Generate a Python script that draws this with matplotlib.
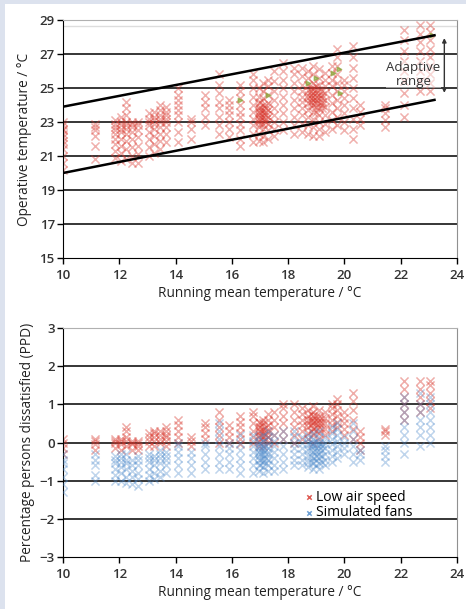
import numpy as np
import matplotlib
matplotlib.use('Agg')
import matplotlib.pyplot as plt
from matplotlib.patches import Rectangle

plt.rcParams['font.family'] = ['Open Sans', 'DejaVu Sans']

# column positions (running mean temperature, degC)
col_x = [10.0, 11.15, 11.85, 12.05, 12.25, 12.45, 12.65, 13.05, 13.25, 13.45, 13.65,
         14.1, 14.55, 15.05, 15.55, 15.9, 16.3, 16.75, 16.95, 17.1, 17.3, 17.5, 17.8,
         18.2, 18.5, 18.7, 18.9, 19.1, 19.3, 19.55, 19.75, 20.0, 20.3, 20.55, 21.45,
         22.1, 22.7, 23.05,
         # extra columns in the dense clusters
         17.0, 17.2, 18.8, 19.0, 19.2]

# top chart: operative temperature per column
op_temp = [
    [20.2, 20.6, 21.0, 21.4, 21.7, 21.9, 22.1, 22.3, 22.5, 22.6, 22.8, 23.0],
    [20.8, 21.6, 22.2, 22.5, 22.7, 22.9],
    [20.9, 21.3, 21.7, 22.0, 22.3, 22.5, 22.7, 22.9, 23.1],
    [20.7, 21.2, 21.6, 22.0, 22.4, 22.6, 22.8, 23.0, 23.3],
    [20.8, 21.4, 21.9, 22.3, 22.6, 22.8, 23.0, 23.4, 23.8, 24.2],
    [20.6, 21.0, 21.5, 22.0, 22.4, 22.7, 22.9, 23.0],
    [20.6, 21.1, 21.6, 22.1, 22.5, 22.8, 23.0],
    [21.0, 21.5, 22.0, 22.4, 22.8, 23.0, 23.2, 23.5],
    [21.2, 21.7, 22.2, 22.6, 22.9, 23.1, 23.3, 23.6],
    [21.4, 21.9, 22.3, 22.7, 23.0, 23.2, 23.4, 23.7, 24.0],
    [21.8, 22.3, 22.7, 23.0, 23.2, 23.4, 23.6, 23.9],
    [21.8, 22.4, 23.0, 23.4, 23.7, 24.0, 24.3, 24.6, 25.0],
    [22.0, 22.6, 23.0, 23.2],
    [22.8, 23.3, 23.8, 24.2, 24.6],
    [22.3, 22.8, 23.3, 23.8, 24.2, 24.7, 25.2, 25.8],
    [22.1, 22.6, 23.0, 23.4, 23.7, 24.0, 24.3],
    [21.6, 22.0, 22.5, 22.9, 23.3, 23.6, 24.0, 24.4, 24.8, 25.2],
    [21.8, 22.3, 22.8, 23.2, 23.6, 24.0, 24.5, 25.0, 25.5, 25.8],
    [21.9, 22.3, 22.7, 23.0, 23.2, 23.4, 23.6, 23.8, 24.1, 24.5, 25.0],
    [21.8, 22.2, 22.6, 22.9, 23.1, 23.3, 23.5, 23.7, 24.0, 24.4, 24.8, 25.3],
    [22.0, 22.5, 22.9, 23.3, 23.7, 24.1, 24.6, 25.1, 25.5],
    [22.2, 22.6, 23.0, 23.4, 23.8, 24.3, 24.8, 25.4, 26.0],
    [22.5, 23.0, 23.5, 24.0, 24.5, 25.0, 25.5, 26.0, 26.5],
    [22.3, 22.8, 23.3, 23.8, 24.3, 24.8, 25.3, 25.8, 26.2],
    [22.4, 22.9, 23.4, 23.8, 24.2, 24.5, 24.8, 25.2, 25.7, 26.2],
    [22.3, 22.8, 23.3, 23.7, 24.1, 24.4, 24.6, 24.9, 25.2, 25.6, 26.0],
    [22.2, 22.7, 23.2, 23.6, 24.0, 24.3, 24.5, 24.7, 25.0, 25.3, 25.8, 26.3],
    [22.2, 22.6, 23.0, 23.4, 23.8, 24.1, 24.4, 24.6, 24.9, 25.2, 25.6, 26.1],
    [22.4, 22.9, 23.4, 23.9, 24.3, 24.7, 25.1, 25.5, 25.9],
    [22.6, 23.1, 23.6, 24.1, 24.6, 25.1, 25.5, 25.9, 26.3],
    [22.8, 23.3, 23.8, 24.3, 24.8, 25.3, 25.8, 26.3, 26.8, 27.3],
    [22.5, 23.0, 23.5, 24.0, 24.4, 24.8, 25.2, 25.5],
    [22.0, 22.6, 23.2, 23.8, 24.4, 25.0, 25.6, 26.2, 26.8, 27.5],
    [22.8, 23.2, 23.6, 24.0],
    [22.7, 23.1, 23.5, 23.8, 24.0],
    [23.3, 24.0, 24.7, 25.4, 26.0, 26.6, 27.2, 27.8, 28.4],
    [24.8, 25.4, 26.0, 26.6, 27.2, 27.7, 28.2, 28.7],
    [24.8, 25.3, 25.8, 26.3, 26.8, 27.3, 27.8, 28.3, 28.7],
    [22.9, 23.1, 23.3, 23.5, 23.7, 23.9, 24.2],
    [23.0, 23.2, 23.4, 23.6, 23.8, 24.0],
    [24.0, 24.2, 24.4, 24.6, 24.8, 25.0],
    [23.6, 23.9, 24.1, 24.3, 24.5, 24.7, 24.9, 25.1],
    [23.8, 24.0, 24.2, 24.4, 24.6, 24.8],
]

# a few green points in the top chart
green_x = [16.3, 17.3, 18.7, 19.0, 19.6, 19.8, 19.85, 23.1]
green_y = [24.3, 24.6, 25.3, 25.6, 25.9, 26.1, 24.7, 28.1]

# adaptive range limits
band_x = [10.0, 23.2]
band_upper = [23.9, 28.1]
band_lower = [20.0, 24.3]

# bottom chart: PPD per column
ppd_low = [
    [-0.3, -0.15, 0.0, 0.1],
    [-0.2, -0.05, 0.05, 0.1],
    [-0.15, 0.0, 0.05, 0.1],
    [-0.2, -0.05, 0.05, 0.1],
    [-0.1, 0.05, 0.15, 0.3, 0.4],
    [-0.2, -0.05, 0.0, 0.05],
    [-0.2, -0.1, 0.0, 0.05],
    [-0.1, 0.05, 0.15, 0.25],
    [-0.1, 0.05, 0.15, 0.25, 0.3],
    [0.0, 0.1, 0.2, 0.3],
    [-0.1, 0.05, 0.15, 0.2, 0.3, 0.4],
    [0.0, 0.15, 0.3, 0.45, 0.6],
    [-0.1, 0.05, 0.15],
    [0.1, 0.25, 0.4, 0.5],
    [0.0, 0.2, 0.4, 0.6, 0.8],
    [0.0, 0.15, 0.3, 0.45],
    [-0.05, 0.1, 0.25, 0.4, 0.55, 0.7],
    [0.0, 0.15, 0.3, 0.5, 0.7, 0.8],
    [-0.1, 0.05, 0.2, 0.3, 0.4, 0.55],
    [-0.1, 0.05, 0.15, 0.25, 0.35, 0.5, 0.6],
    [0.0, 0.15, 0.3, 0.45, 0.6, 0.75],
    [0.0, 0.2, 0.4, 0.6, 0.8],
    [0.1, 0.3, 0.5, 0.7, 0.9, 1.0],
    [0.0, 0.2, 0.4, 0.6, 0.8, 1.0],
    [0.1, 0.3, 0.45, 0.6, 0.75, 0.9],
    [0.1, 0.25, 0.4, 0.5, 0.6, 0.7, 0.85],
    [0.0, 0.2, 0.35, 0.5, 0.6, 0.7, 0.8, 0.95],
    [0.1, 0.25, 0.4, 0.5, 0.6, 0.7, 0.85],
    [0.2, 0.35, 0.5, 0.65, 0.8],
    [0.3, 0.45, 0.6, 0.75, 0.9, 1.0],
    [0.4, 0.55, 0.7, 0.85, 1.0, 1.15],
    [0.2, 0.35, 0.5, 0.65, 0.8],
    [0.1, 0.35, 0.6, 0.85, 1.1, 1.3],
    [-0.2, 0.0, 0.15, 0.3],
    [0.2, 0.3, 0.35],
    [0.6, 0.8, 1.0, 1.2, 1.4, 1.6],
    [0.8, 1.0, 1.2, 1.4, 1.6],
    [0.9, 1.1, 1.3, 1.5, 1.6],
    [0.1, 0.2, 0.3, 0.4, 0.5],
    [0.1, 0.2, 0.3, 0.4],
    [0.3, 0.45, 0.6, 0.75],
    [0.3, 0.4, 0.5, 0.6, 0.7],
    [0.35, 0.5, 0.65],
]

ppd_fans = [
    [-1.3, -1.1, -0.9, -0.7, -0.55, -0.45, -0.3],
    [-1.0, -0.85, -0.6, -0.45, -0.3],
    [-1.0, -0.85, -0.7, -0.55, -0.45, -0.35],
    [-1.0, -0.8, -0.65, -0.5, -0.4, -0.3],
    [-1.05, -0.9, -0.7, -0.55, -0.45, -0.3],
    [-1.1, -0.9, -0.75, -0.6, -0.45],
    [-1.15, -0.95, -0.8, -0.6, -0.45, -0.35],
    [-1.0, -0.85, -0.7, -0.5, -0.4, -0.3],
    [-0.95, -0.8, -0.6, -0.45, -0.35],
    [-0.9, -0.75, -0.55, -0.4, -0.3, -0.2],
    [-0.8, -0.6, -0.45, -0.35, -0.25],
    [-0.8, -0.6, -0.4, -0.25, -0.1, 0.0],
    [-0.8, -0.6, -0.4, -0.25],
    [-0.7, -0.5, -0.3, -0.1, 0.0],
    [-0.7, -0.5, -0.3, -0.1, 0.1, 0.3, 0.5],
    [-0.7, -0.5, -0.3, -0.15, 0.0],
    [-0.8, -0.6, -0.4, -0.2, 0.0, 0.2],
    [-0.8, -0.6, -0.4, -0.25, -0.1, 0.05, 0.2],
    [-0.75, -0.6, -0.45, -0.35, -0.25, -0.15, 0.0, 0.15],
    [-0.8, -0.65, -0.5, -0.4, -0.3, -0.2, -0.1, 0.05, 0.2],
    [-0.75, -0.6, -0.45, -0.3, -0.15, 0.0, 0.15, 0.3],
    [-0.75, -0.6, -0.4, -0.25, -0.1, 0.05, 0.2],
    [-0.7, -0.5, -0.3, -0.1, 0.1, 0.3],
    [-0.6, -0.45, -0.3, -0.15, 0.0, 0.15, 0.3],
    [-0.6, -0.45, -0.3, -0.15, 0.0, 0.15],
    [-0.65, -0.5, -0.35, -0.2, -0.05, 0.1, 0.2],
    [-0.7, -0.55, -0.4, -0.25, -0.1, 0.0, 0.1, 0.25],
    [-0.7, -0.55, -0.4, -0.3, -0.2, -0.1, 0.0, 0.15, 0.3],
    [-0.6, -0.45, -0.3, -0.15, 0.0, 0.15],
    [-0.5, -0.35, -0.2, -0.05, 0.1, 0.25, 0.4],
    [-0.4, -0.25, -0.1, 0.05, 0.2, 0.35, 0.5],
    [-0.3, -0.15, 0.0, 0.15],
    [-0.5, -0.3, -0.1, 0.1, 0.3, 0.5],
    [-0.45, -0.3, -0.2],
    [-0.5, -0.35, -0.2, -0.1],
    [-0.3, 0.0, 0.2, 0.4, 0.6, 0.8, 1.0, 1.2],
    [-0.1, 0.2, 0.4, 0.6, 0.8, 1.0, 1.3],
    [0.0, 0.2, 0.4, 0.6, 0.8, 1.0, 1.2],
    [-0.6, -0.45, -0.3, -0.2, -0.1, 0.0],
    [-0.55, -0.4, -0.3, -0.2, -0.1],
    [-0.5, -0.35, -0.2, -0.1, 0.0],
    [-0.6, -0.45, -0.35, -0.25, -0.15, -0.05, 0.05],
    [-0.5, -0.35, -0.2, -0.1, 0.0],
]

RED = '#d8342a'
BLUE = '#4a88ca'


def flatten(xs, cols):
    px, py = [], []
    for x, ys in zip(xs, cols):
        px += [x] * len(ys)
        py += list(ys)
    return np.array(px), np.array(py)


def style_axes(ax, ylo, yhi, grid_vals, yticks, ylabels):
    ax.set_xlim(10, 24)
    ax.set_ylim(ylo, yhi)
    ax.set_xticks(range(10, 25, 2))
    ax.set_xticklabels([str(v) for v in range(10, 25, 2)], fontweight='semibold', color='#333333')
    ax.set_yticks(yticks)
    ax.set_yticklabels(ylabels, fontweight='semibold', color='#333333')
    for g in grid_vals:
        ax.axhline(g, color='black', lw=1.1, zorder=1)
    ax.spines['left'].set_color('black')
    ax.spines['bottom'].set_color('black')
    ax.spines['top'].set_color('#b0b0b0')
    ax.spines['right'].set_color('#909090')
    ax.tick_params(direction='out', length=4, width=1, labelsize=9.5, colors='black', pad=2)
    ax.tick_params(axis='x', pad=4)
    for lab in ax.get_xticklabels() + ax.get_yticklabels():
        lab.set_color('#333333')
    ax.set_xlabel('Running mean temperature / \u00b0C', fontsize=9.8, color='#222222', labelpad=3)


fig = plt.figure(figsize=(4.66, 6.09), dpi=100)
fig.patch.set_facecolor('#dce2ee')
fig.patches.append(Rectangle((5 / 466, 0), 1, 1 - 4 / 609, transform=fig.transFigure,
                             facecolor='white', edgecolor='none', zorder=-10))

# top panel
ax1 = fig.add_axes([63 / 466, 1 - 258 / 609, 394 / 466, 238 / 609])
style_axes(ax1, 15, 29, [17, 19, 21, 23, 25, 27], list(range(15, 30, 2)),
           [str(v) for v in range(15, 30, 2)])
ax1.axhline(28.65, color='#dddddd', lw=1, zorder=1)
tx, ty = flatten(col_x, op_temp)
ax1.scatter(tx, ty, marker='x', s=34, color=RED, alpha=0.38, linewidths=1.1, zorder=2)
ax1.scatter(green_x, green_y, marker='>', s=10, color='#8aa93c', alpha=0.7, zorder=3)
ax1.plot(band_x, band_upper, color='black', lw=1.8, zorder=4)
ax1.plot(band_x, band_lower, color='black', lw=1.8, zorder=4)
ax1.annotate('', xy=(23.55, band_upper[1]), xytext=(23.55, 24.55),
             arrowprops=dict(arrowstyle='<|-|>', color='#333333', lw=1,
                             mutation_scale=6), zorder=5)
ax1.text(22.45, 25.8, 'Adaptive\nrange', ha='center', va='center', fontsize=9.5,
         color='#333333', linespacing=1.05, zorder=5,
         bbox=dict(facecolor='white', edgecolor='none', alpha=0.5, pad=0.5))
ax1.set_ylabel('Operative temperature / \u00b0C', fontsize=9.8, color='#222222', labelpad=5)

# bottom panel
ax2 = fig.add_axes([63 / 466, 1 - 557 / 609, 394 / 466, 229 / 609])
style_axes(ax2, -3, 3, [-2, -1, 0, 1, 2], list(range(-3, 4)),
           ['\u22123', '\u22122', '\u22121', '0', '1', '2', '3'])
lx, ly = flatten(col_x, ppd_low)
fx, fy = flatten(col_x, ppd_fans)
ax2.scatter(lx, ly, marker='x', s=34, color=RED, alpha=0.4, linewidths=1.1, zorder=2,
            label='Low air speed')
ax2.scatter(fx, fy, marker='x', s=34, color=BLUE, alpha=0.35, linewidths=1.1, zorder=3,
            label='Simulated fans')
leg = ax2.legend(loc='upper left', bbox_to_anchor=(18.25, -1.05),
                 bbox_transform=ax2.transData, frameon=False, fontsize=10,
                 handletextpad=0.0, handlelength=1.0, borderpad=0, labelspacing=0.05,
                 markerscale=0.55)
for h in leg.legend_handles:
    h.set_alpha(0.8)
ax2.set_ylabel('Percentage persons dissatisfied (PPD)', fontsize=9.8, color='#222222',
               labelpad=3)

fig.savefig('out.png', dpi=100, facecolor=fig.get_facecolor())
